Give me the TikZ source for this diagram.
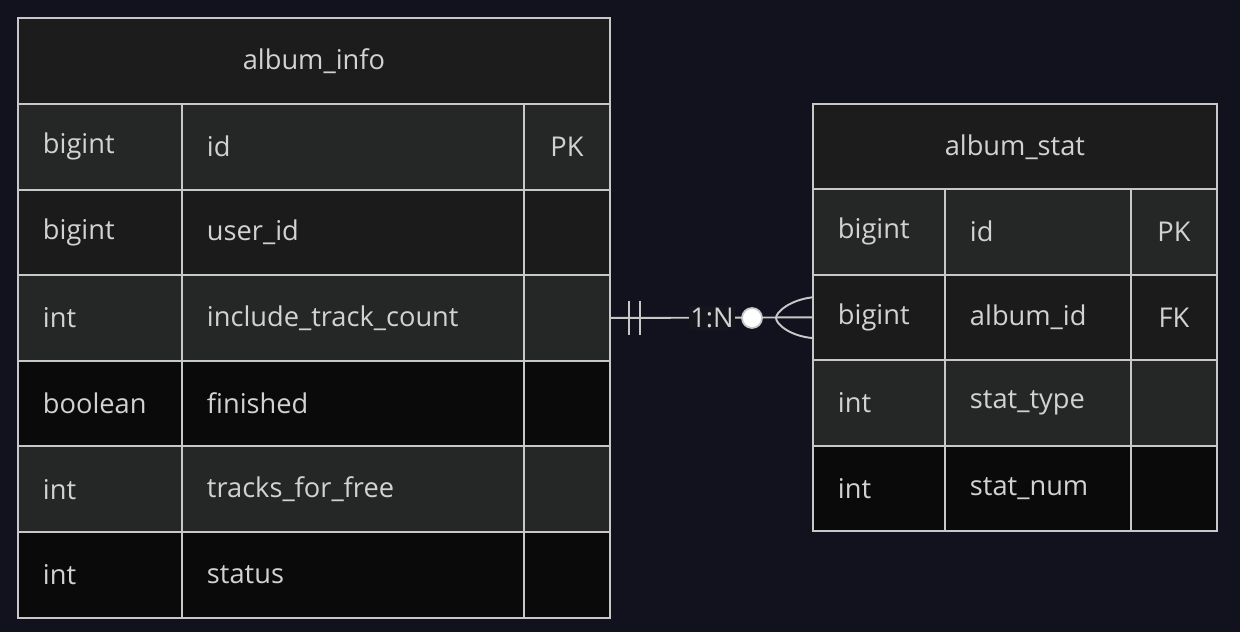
\documentclass[tikz,border=0pt]{standalone}
\usepackage{fontspec}
\setmainfont{Open Sans}
\usetikzlibrary{positioning}
\definecolor{bgnavy}{HTML}{12121F}
\definecolor{linegray}{HTML}{C8C8C8}
\definecolor{txtgray}{HTML}{D2D2D2}
\definecolor{headbg}{HTML}{1C1C1C}
\definecolor{rowgray}{HTML}{252727}
\definecolor{rowdark}{HTML}{1B1B1B}
\definecolor{rowblack}{HTML}{0A0A0A}
\tikzset{
  cell/.style={draw=linegray, line width=1.1pt, anchor=north west, minimum height=1.712cm,
    inner xsep=0.5cm, text=txtgray, font=\fontsize{15.5}{18}\selectfont, align=left},
  conn/.style={draw=linegray, line width=1.1pt}
}
\begin{document}
\begin{tikzpicture}[x=0.02cm,y=-0.02cm]
  \fill[bgnavy] (0,0) rectangle (1240,632);
  \useasboundingbox (0,0) rectangle (1240,632);
  % album_info
  \node[cell, fill=headbg, minimum width=11.84cm, align=center] (aihead) at (17,17) {album\_info};
  \foreach \ty/\nm/\key/\bg [count=\i] in {bigint/id/PK/rowgray, bigint/user\_id//rowdark,
      int/include\_track\_count//rowgray, boolean/finished//rowblack,
      int/tracks\_for\_free//rowgray, int/status//rowblack} {
    \node[cell, fill=\bg, text width=2.28cm] (ai\i t) at (17,{103+(\i-1)*85.6}) {\ty};
    \node[cell, fill=\bg, text width=5.84cm] (ai\i n) at (181,{103+(\i-1)*85.6}) {\nm};
    \node[cell, fill=\bg, minimum width=1.72cm, inner xsep=0pt, align=center] (ai\i k) at (523,{103+(\i-1)*85.6}) {\key};
  }
  % album_stat
  \node[cell, fill=headbg, minimum width=8.08cm, align=center] (ashead) at (812,103) {album\_stat};
  \foreach \ty/\nm/\key/\bg [count=\i] in {bigint/id/PK/rowgray, bigint/album\_id/FK/rowdark,
      int/stat\_type//rowgray, int/stat\_num//rowblack} {
    \node[cell, fill=\bg, text width=1.64cm] (as\i t) at (812,{188+(\i-1)*85.6}) {\ty};
    \node[cell, fill=\bg, text width=2.72cm] (as\i n) at (944,{188+(\i-1)*85.6}) {\nm};
    \node[cell, fill=\bg, minimum width=1.72cm, inner xsep=0pt, align=center] (as\i k) at (1130,{188+(\i-1)*85.6}) {\key};
  }
  % relation
  \draw[conn] (ai3k.east) -- (as2t.west);
  \draw[conn] (ai3k.east) ++(18,-17) -- ++(0,34);
  \draw[conn] (ai3k.east) ++(29,-17) -- ++(0,34);
  \node[fill=bgnavy!70!headbg, text=txtgray, inner sep=1pt, font=\fontsize{15.5}{18}\selectfont] (card) at (712,318) {1:N};
  \node[circle, fill=white, draw=linegray, line width=1pt, minimum size=0.4cm, inner sep=0pt] (opt) at (752,318) {};
  \draw[conn] (as2t.west) ++(0,-20) .. controls (790,300) and (776,312) .. (776,318)
    .. controls (776,324) and (790,336) .. (812,338);
\end{tikzpicture}
\end{document}
